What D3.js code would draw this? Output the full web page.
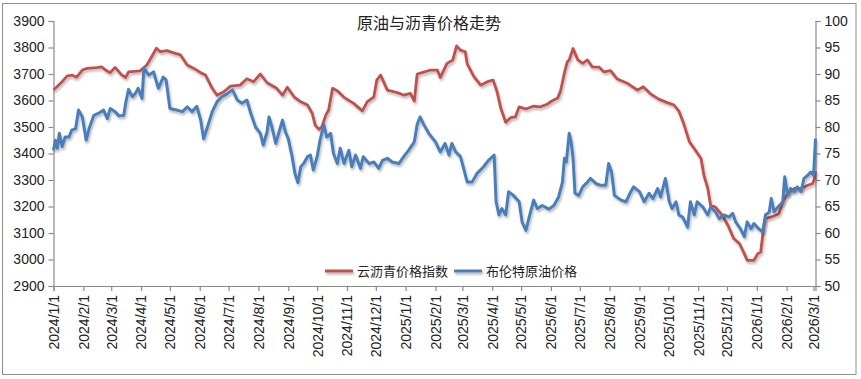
<!DOCTYPE html>
<html>
<head>
<meta charset="utf-8">
<script src="https://cdn.jsdelivr.net/npm/d3@7"></script>
<style>
  html, body { margin: 0; padding: 0; background: #fff; }
  svg { display: block; }
  text { fill: #222; }
</style>
</head>
<body>
<svg id="chart" width="861" height="379"></svg>
<script>
const title = "原油与沥青价格走势";
const seriesNames = ["云沥青价格指数", "布伦特原油价格"];
const leftTicks = [2900, 3000, 3100, 3200, 3300, 3400, 3500, 3600, 3700, 3800, 3900];
const rightTicks = [50, 55, 60, 65, 70, 75, 80, 85, 90, 95, 100];

const asphaltDates = ["2024-01-01","2024-01-10","2024-01-15","2024-01-20","2024-01-25","2024-01-31","2024-02-05","2024-02-15","2024-02-20","2024-02-24","2024-02-29","2024-03-05","2024-03-12","2024-03-16","2024-03-19","2024-03-31","2024-04-07","2024-04-12","2024-04-17","2024-04-21","2024-04-28","2024-05-05","2024-05-12","2024-05-19","2024-05-26","2024-06-02","2024-06-07","2024-06-14","2024-06-19","2024-06-26","2024-07-03","2024-07-13","2024-07-20","2024-07-27","2024-08-03","2024-08-10","2024-08-20","2024-08-26","2024-08-31","2024-09-07","2024-09-14","2024-09-21","2024-09-26","2024-09-29","2024-10-03","2024-10-06","2024-10-10","2024-10-13","2024-10-17","2024-10-22","2024-10-29","2024-11-08","2024-11-17","2024-11-22","2024-11-29","2024-12-02","2024-12-06","2024-12-13","2024-12-20","2024-12-25","2024-12-30","2025-01-06","2025-01-10","2025-01-13","2025-01-18","2025-01-27","2025-02-03","2025-02-06","2025-02-13","2025-02-19","2025-02-23","2025-02-27","2025-03-04","2025-03-06","2025-03-13","2025-03-20","2025-03-27","2025-04-02","2025-04-06","2025-04-10","2025-04-15","2025-04-20","2025-04-25","2025-04-29","2025-05-06","2025-05-14","2025-05-21","2025-05-28","2025-06-02","2025-06-08","2025-06-11","2025-06-15","2025-06-18","2025-06-20","2025-06-24","2025-06-29","2025-07-04","2025-07-09","2025-07-14","2025-07-21","2025-07-26","2025-08-02","2025-08-09","2025-08-20","2025-08-30","2025-09-05","2025-09-13","2025-09-21","2025-09-30","2025-10-07","2025-10-12","2025-10-17","2025-10-23","2025-10-28","2025-11-04","2025-11-07","2025-11-11","2025-11-14","2025-11-19","2025-11-26","2025-12-02","2025-12-08","2025-12-14","2025-12-19","2025-12-22","2025-12-29","2026-01-02","2026-01-05","2026-01-08","2026-01-10","2026-01-17","2026-01-24","2026-01-28","2026-02-02","2026-02-09","2026-02-16","2026-02-23","2026-02-28","2026-03-02","2026-03-03"];
const asphaltValues = [3640,3671,3692,3696,3688,3715,3721,3724,3727,3715,3705,3725,3696,3687,3708,3712,3734,3765,3797,3784,3788,3780,3772,3734,3721,3705,3696,3646,3620,3633,3654,3658,3682,3671,3700,3667,3646,3620,3650,3614,3595,3583,3551,3507,3491,3501,3545,3564,3646,3637,3612,3589,3561,3595,3614,3677,3696,3639,3633,3628,3620,3627,3598,3700,3705,3715,3715,3687,3740,3753,3806,3790,3784,3738,3690,3658,3671,3677,3633,3570,3518,3535,3538,3576,3568,3579,3576,3586,3598,3609,3636,3704,3746,3753,3796,3753,3740,3753,3727,3726,3708,3713,3681,3664,3639,3652,3624,3605,3592,3583,3560,3513,3444,3419,3381,3318,3269,3205,3198,3167,3129,3079,3060,3022,2997,2997,3022,3028,3117,3155,3161,3173,3217,3249,3268,3268,3280,3287,3306,3333];

const brentDates = ["2024-01-01","2024-01-03","2024-01-05","2024-01-07","2024-01-10","2024-01-13","2024-01-17","2024-01-20","2024-01-24","2024-01-27","2024-01-31","2024-02-04","2024-02-07","2024-02-12","2024-02-17","2024-02-22","2024-02-26","2024-02-29","2024-03-05","2024-03-09","2024-03-14","2024-03-16","2024-03-19","2024-03-23","2024-03-26","2024-03-29","2024-04-02","2024-04-04","2024-04-09","2024-04-14","2024-04-19","2024-04-24","2024-04-27","2024-05-01","2024-05-08","2024-05-14","2024-05-19","2024-05-24","2024-05-29","2024-06-02","2024-06-05","2024-06-09","2024-06-14","2024-06-19","2024-06-24","2024-06-29","2024-07-05","2024-07-10","2024-07-15","2024-07-20","2024-07-24","2024-07-29","2024-08-03","2024-08-06","2024-08-10","2024-08-12","2024-08-15","2024-08-19","2024-08-22","2024-08-26","2024-08-29","2024-09-01","2024-09-05","2024-09-08","2024-09-11","2024-09-14","2024-09-17","2024-09-21","2024-09-24","2024-09-27","2024-10-01","2024-10-04","2024-10-08","2024-10-11","2024-10-15","2024-10-18","2024-10-22","2024-10-25","2024-10-29","2024-11-03","2024-11-06","2024-11-10","2024-11-15","2024-11-18","2024-11-24","2024-11-29","2024-12-04","2024-12-08","2024-12-13","2024-12-18","2024-12-25","2024-12-30","2025-01-04","2025-01-10","2025-01-13","2025-01-16","2025-01-20","2025-01-25","2025-02-01","2025-02-06","2025-02-11","2025-02-15","2025-02-18","2025-02-22","2025-02-27","2025-03-06","2025-03-11","2025-03-16","2025-03-23","2025-03-28","2025-04-03","2025-04-05","2025-04-08","2025-04-11","2025-04-15","2025-04-18","2025-04-23","2025-04-29","2025-05-02","2025-05-06","2025-05-09","2025-05-14","2025-05-18","2025-05-23","2025-05-30","2025-06-04","2025-06-09","2025-06-13","2025-06-15","2025-06-17","2025-06-20","2025-06-22","2025-06-24","2025-06-26","2025-06-30","2025-07-04","2025-07-09","2025-07-12","2025-07-18","2025-07-23","2025-07-28","2025-07-31","2025-08-03","2025-08-06","2025-08-13","2025-08-18","2025-08-23","2025-08-26","2025-09-01","2025-09-06","2025-09-11","2025-09-15","2025-09-20","2025-09-23","2025-09-28","2025-10-02","2025-10-05","2025-10-09","2025-10-12","2025-10-16","2025-10-21","2025-10-24","2025-10-28","2025-10-31","2025-11-06","2025-11-11","2025-11-14","2025-11-19","2025-11-23","2025-11-28","2025-12-03","2025-12-07","2025-12-10","2025-12-15","2025-12-19","2025-12-22","2025-12-26","2025-12-29","2026-01-03","2026-01-07","2026-01-10","2026-01-14","2026-01-16","2026-01-19","2026-01-23","2026-01-28","2026-01-30","2026-02-02","2026-02-05","2026-02-09","2026-02-12","2026-02-16","2026-02-19","2026-02-23","2026-02-26","2026-03-01","2026-03-03"];
const brentValues = [75.6,77.5,76.0,78.8,76.3,78.1,78.1,79.4,79.7,83.2,81.9,77.5,79.7,82.2,82.6,83.2,81.6,83.5,82.9,82.1,82.2,84.5,87.1,85.7,86.3,87.3,85.4,91.1,89.8,90.4,87.3,89.4,88.9,83.5,83.2,82.9,83.8,82.9,83.9,81.3,77.8,80.0,82.9,84.8,85.7,86.2,87.0,85.1,84.5,85.1,82.6,80.0,78.8,76.6,79.1,81.9,80.0,76.9,78.8,81.3,79.1,77.8,74.4,71.2,69.5,72.5,73.1,74.4,74.7,71.9,74.4,77.5,80.4,78.1,78.8,75.0,73.1,76.0,73.1,75.6,72.5,74.7,72.2,74.4,73.1,73.4,72.2,73.7,74.1,73.4,73.1,74.4,75.6,77.2,80.5,81.9,80.4,78.8,77.2,75.3,76.9,74.7,76.9,75.3,74.4,69.6,69.6,71.2,72.5,73.7,74.7,65.9,63.4,64.6,63.4,67.8,67.1,65.9,62.1,60.5,62.7,66.2,64.6,65.2,64.5,65.2,66.8,69.6,74.1,73.4,78.8,77.2,74.1,67.5,67.1,68.7,69.6,70.3,69.3,69.0,69.0,73.1,71.5,67.1,66.2,65.9,67.8,68.7,67.8,65.9,67.5,66.5,68.4,66.8,70.3,65.9,64.6,65.9,63.4,63.0,61.1,65.9,63.4,65.9,64.9,63.4,64.9,64.0,62.7,63.4,63.0,63.7,62.1,60.8,59.3,62.1,60.8,61.8,60.8,60.2,63.4,64.0,66.5,64.0,64.9,65.9,70.6,67.1,68.4,67.8,68.7,67.8,70.3,70.9,71.5,70.9,77.8];

(function () {
const parse = d3.timeParse("%Y-%m-%d");
const asphalt = asphaltDates.map((d, i) => ({ date: parse(d), value: asphaltValues[i] }));
const brent = brentDates.map((d, i) => ({ date: parse(d), value: brentValues[i] }));

const svg = d3.select("#chart");
const mLeft = 53.5, mRight = 815.5, mTop = 21, mBottom = 286;

const defs = svg.append("defs");
const f = defs.append("filter").attr("id", "shadow").attr("filterUnits", "userSpaceOnUse")
  .attr("x", 0).attr("y", 0).attr("width", 861).attr("height", 379);
f.append("feDropShadow").attr("dx", 1.2).attr("dy", 2.2).attr("stdDeviation", 1.3)
  .attr("flood-color", "#000").attr("flood-opacity", 0.28);

svg.append("rect").attr("x", 2.5).attr("y", 3.5).attr("width", 853.5).attr("height", 371)
  .attr("fill", "#fff").attr("stroke", "#8e8e8e").attr("stroke-width", 1);

const x = d3.scaleTime().domain([parse("2024-01-01"), parse("2026-03-03")]).range([mLeft, mRight]);
const yL = d3.scaleLinear().domain([2900, 3900]).range([mBottom, mTop]);
const yR = d3.scaleLinear().domain([50, 100]).range([mBottom, mTop]);

const numFont = "'Liberation Sans', Arial, sans-serif";
const cjkFont = "'Noto Sans CJK SC', sans-serif";
const axisColor = "#8a8a8a";

const gL = svg.append("g").attr("transform", `translate(${mLeft},0)`)
  .call(d3.axisLeft(yL).tickValues(leftTicks).tickSize(5).tickPadding(4).tickFormat(d3.format("d")));
const gR = svg.append("g").attr("transform", `translate(${mRight},0)`)
  .call(d3.axisRight(yR).tickValues(rightTicks).tickSize(5).tickPadding(4).tickFormat(d3.format("d")));
const monthTicks = d3.timeMonth.range(parse("2024-01-01"), parse("2026-03-02"));
const gB = svg.append("g").attr("transform", `translate(0,${mBottom})`)
  .call(d3.axisBottom(x).tickValues(monthTicks).tickSize(5).tickFormat(d3.timeFormat("%Y/%-m/%-d")));
gB.selectAll(".tick text")
  .attr("transform", "rotate(-90)")
  .attr("text-anchor", "end")
  .attr("x", -9).attr("y", 0).attr("dy", "0.35em");

[gL, gR, gB].forEach(g => {
  g.selectAll("path.domain").attr("stroke", axisColor).attr("stroke-width", 1.2);
  g.selectAll(".tick line").attr("stroke", axisColor).attr("stroke-width", 1.2);
  g.selectAll(".tick text").attr("font-family", numFont).attr("font-size", 14).attr("fill", "#222");
});

const lineL = d3.line().x(d => x(d.date)).y(d => yL(d.value));
const lineR = d3.line().x(d => x(d.date)).y(d => yR(d.value));

const red = "#c0504d", blue = "#4a7ebb";

svg.append("path").datum(asphalt).attr("d", lineL).attr("fill", "none")
  .attr("stroke", red).attr("stroke-width", 2.8).attr("stroke-linejoin", "round").attr("filter", "url(#shadow)");
svg.append("path").datum(brent).attr("d", lineR).attr("fill", "none")
  .attr("stroke", blue).attr("stroke-width", 3).attr("stroke-linejoin", "round").attr("filter", "url(#shadow)");

svg.append("text").attr("x", 429).attr("y", 23).attr("text-anchor", "middle").attr("dy", "0.35em")
  .attr("font-family", cjkFont).attr("font-size", 16).attr("fill", "#111").text(title);

const legend = [
  { name: seriesNames[0], color: red, x1: 325, x2: 353, tx: 357 },
  { name: seriesNames[1], color: blue, x1: 454, x2: 482, tx: 486 }
];
const lg = svg.append("g");
legend.forEach(l => {
  lg.append("line").attr("x1", l.x1).attr("x2", l.x2).attr("y1", 271).attr("y2", 271)
    .attr("stroke", l.color).attr("stroke-width", 3).attr("filter", "url(#shadow)");
  lg.append("text").attr("x", l.tx).attr("y", 271).attr("dy", "0.35em")
    .attr("font-family", cjkFont).attr("font-size", 13).attr("fill", "#222").text(l.name);
});
})();
</script>
</body>
</html>
